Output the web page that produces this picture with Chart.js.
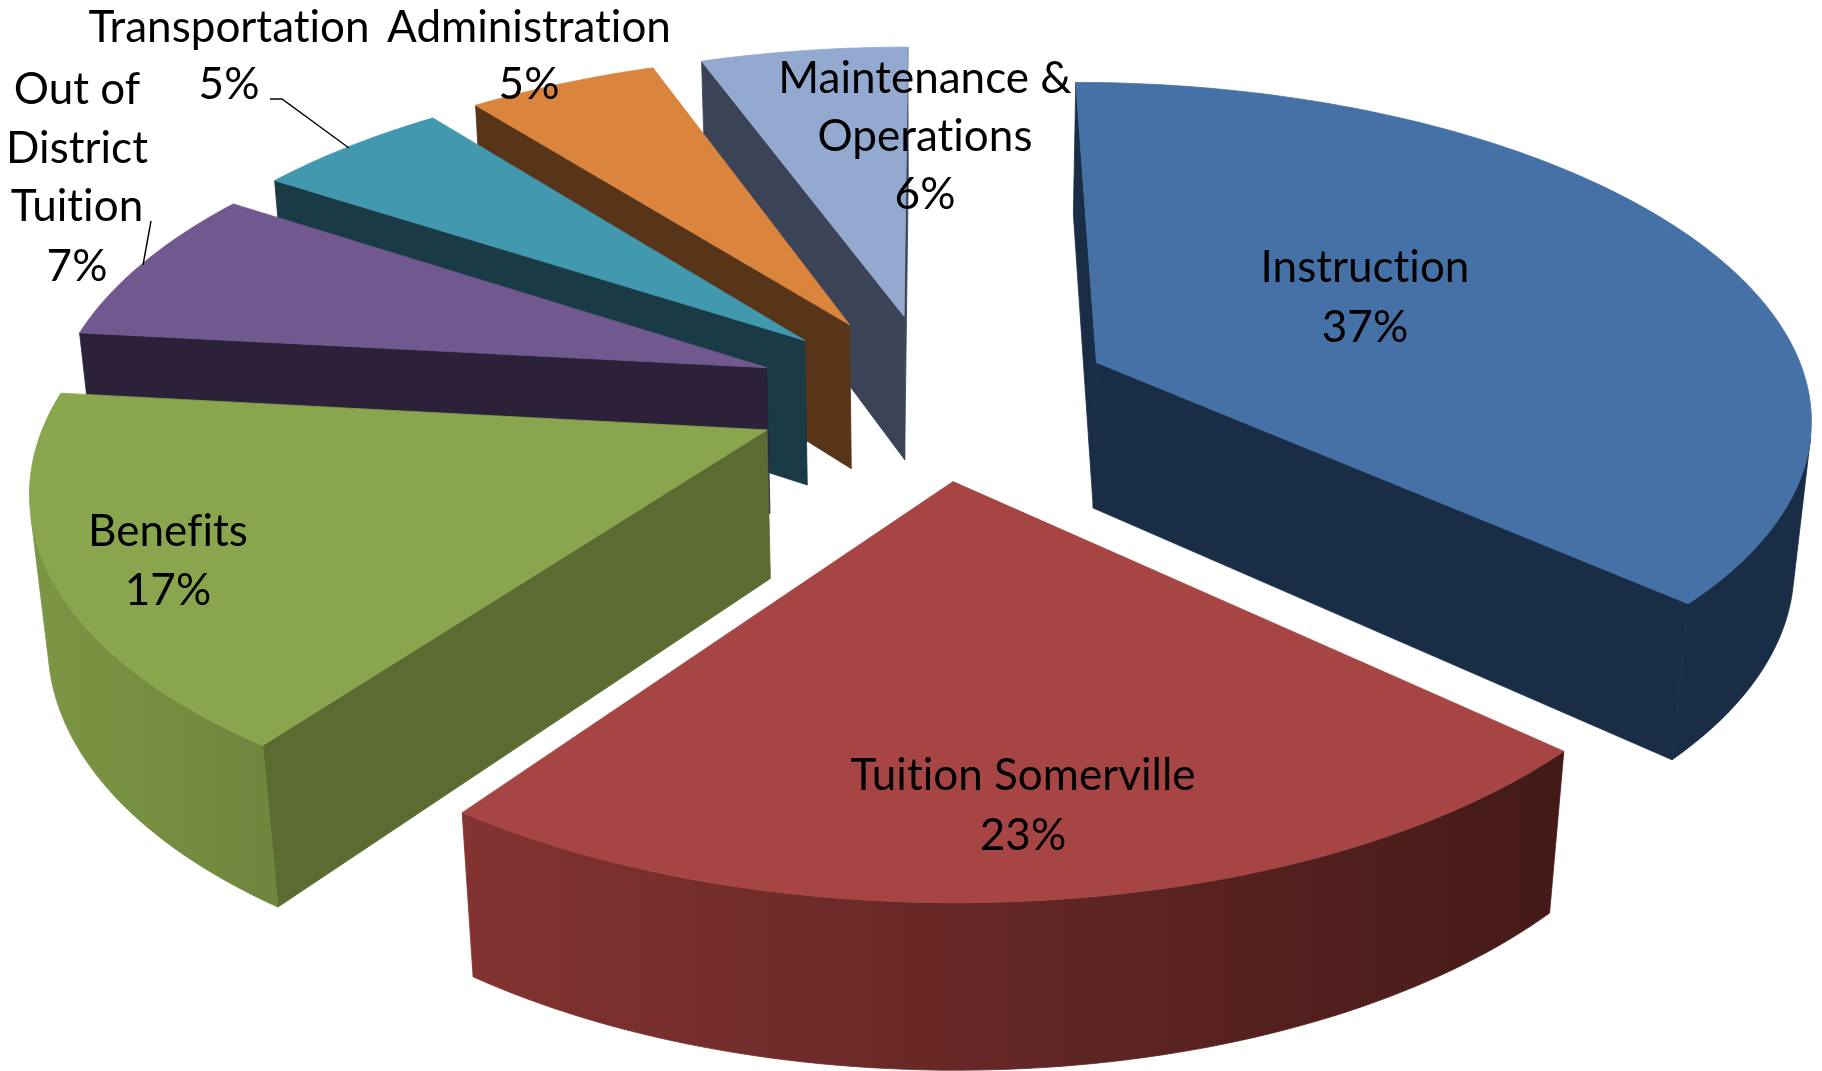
<!DOCTYPE html>
<html>
<head>
<meta charset="utf-8">
<style>html,body{margin:0;padding:0;background:#fff}canvas{display:block}</style>
<script src="https://cdn.jsdelivr.net/npm/chart.js@4/dist/chart.umd.min.js"></script>
</head>
<body>
<canvas id="c" width="1822" height="1071"></canvas>
<script>
// ---- data ----
const categories = ["Instruction","Tuition Somerville","Benefits","Out of District Tuition","Transportation","Administration","Maintenance & Operations"];
const shares = [36.85,23.05,16.85,7.49,5.2,5.05,5.51];
const percentLabels = ["37%","23%","17%","7%","5%","5%","6%"];

// ---- styles ----
const topColors = ["#4571A6","#A64543","#89A54E","#71588F","#4198AF","#DB843D","#93A9CF"];
const radialColors = ["#1A2D47","#431A18","#5B6B31","#2C2139","#1A3B46","#583518","#3B4457"];
const rimStops = [["#1A2D47","#1A2D47"],["#833331","#431A18"],["#7B9643","#6F873D"],["#2C2139","#2C2139"],["#1A3B46","#1A3B46"],["#583518","#583518"],["#3B4457","#3B4457"]];
const drawOrder = [6,5,4,3,2,0,1];
// label layout
const labelLayout = [
  {x:1365, lines:[[categories[0],268],[percentLabels[0],328]]},
  {x:1023, lines:[[categories[1],776],[percentLabels[1],836]]},
  {x:168,  lines:[[categories[2],532],[percentLabels[2],591]]},
  {x:77,   lines:[["Out of",90],["District",149],["Tuition",207],[percentLabels[3],267]]},
  {x:229,  lines:[[categories[4],28],[percentLabels[4],85]]},
  {x:529,  lines:[[categories[5],28],[percentLabels[5],85]]},
  {x:925,  lines:[["Maintenance &",79],["Operations",137],[percentLabels[6],195]]}
];
const leaderLines = [[[270,99],[282,99],[349,148]],[[151,221],[143,265]]];
// camera
const TILT=0.463, PERSP=0.000207, DEPTH=150, DEPTH_W=0.02;

function project(cx,cy,u,v,z){
  const w = 1 + PERSP*v + DEPTH_W*z;
  return [cx + u/w, cy + (-TILT*v + DEPTH*z)/w];
}
function area(pts){
  let s=0;
  for(let i=0;i<pts.length;i++){const a=pts[i],b=pts[(i+1)%pts.length];s+=a[0]*b[1]-b[0]*a[1];}
  return s;
}
function poly(ctx,pts,fill){
  ctx.beginPath();
  pts.forEach((p,i)=>i?ctx.lineTo(p[0],p[1]):ctx.moveTo(p[0],p[1]));
  ctx.closePath();
  ctx.fillStyle=fill; ctx.strokeStyle=fill; ctx.lineWidth=0.8; ctx.lineJoin='round';
  ctx.fill(); ctx.stroke();
}
function drawSlice(ctx,el,i){
  const a0=el.startAngle,a1=el.endAngle,mid=(a0+a1)/2,off=el.options.offset,R=el.outerRadius;
  const ou=off*Math.cos(mid), ov=-off*Math.sin(mid);
  const n=Math.max(8,Math.round((a1-a0)/0.02));
  const plane=[[ou,ov]];
  for(let k=0;k<=n;k++){const a=a0+(a1-a0)*k/n; plane.push([ou+R*Math.cos(a),ov-R*Math.sin(a)]);}
  const top=plane.map(p=>project(el.x,el.y,p[0],p[1],0));
  const bot=plane.map(p=>project(el.x,el.y,p[0],p[1],1));
  const xs=top.slice(1).map(p=>p[0]);
  const grad=ctx.createLinearGradient(Math.min(...xs),0,Math.max(...xs),0);
  grad.addColorStop(0,rimStops[i][0]); grad.addColorStop(1,rimStops[i][1]);
  const m=plane.length;
  // flat radial faces
  [0,m-1].forEach(k=>{
    const q=(k+1)%m, quad=[top[k],top[q],bot[q],bot[k]];
    if(area(quad)<0) poly(ctx,quad,radialColors[i]);
  });
  // outer wall: one polygon for each contiguous run of camera-facing segments
  let run=null;
  const flush=()=>{ if(run){ poly(ctx,run.t.concat(run.b.reverse()),grad); run=null; } };
  for(let k=1;k<m-1;k++){
    const quad=[top[k],top[k+1],bot[k+1],bot[k]];
    if(area(quad)<0){
      if(!run) run={t:[top[k]],b:[bot[k]]};
      run.t.push(top[k+1]); run.b.push(bot[k+1]);
    } else flush();
  }
  flush();
  poly(ctx,top,topColors[i]);
}
const pie3d={
  id:'pie3d',
  beforeDatasetDraw(chart,args){
    const ctx=chart.ctx, arcs=args.meta.data;
    ctx.save();
    drawOrder.forEach(i=>drawSlice(ctx,arcs[i],i));
    ctx.restore();
    return false;
  },
  afterDraw(chart){
    const ctx=chart.ctx;
    ctx.save();
    ctx.strokeStyle='#000'; ctx.lineWidth=1.4;
    leaderLines.forEach(l=>{ctx.beginPath();l.forEach((p,j)=>j?ctx.lineTo(p[0],p[1]):ctx.moveTo(p[0],p[1]));ctx.stroke();});
    ctx.fillStyle='#000'; ctx.font='44px Lato'; ctx.textAlign='center'; ctx.textBaseline='middle';
    ctx.letterSpacing='0.01px';
    labelLayout.forEach(l=>l.lines.forEach(t=>ctx.fillText(t[0],l.x,t[1])));
    ctx.restore();
  }
};
new Chart(document.getElementById('c'),{
  type:'pie',
  data:{labels:categories,datasets:[{data:shares,backgroundColor:topColors,borderWidth:0,offset:180}]},
  options:{
    responsive:false,animation:false,radius:714,
    layout:{padding:{left:46,top:0,right:0,bottom:280}},
    plugins:{legend:{display:false},tooltip:{enabled:false}}
  },
  plugins:[pie3d]
});
</script>
</body>
</html>
